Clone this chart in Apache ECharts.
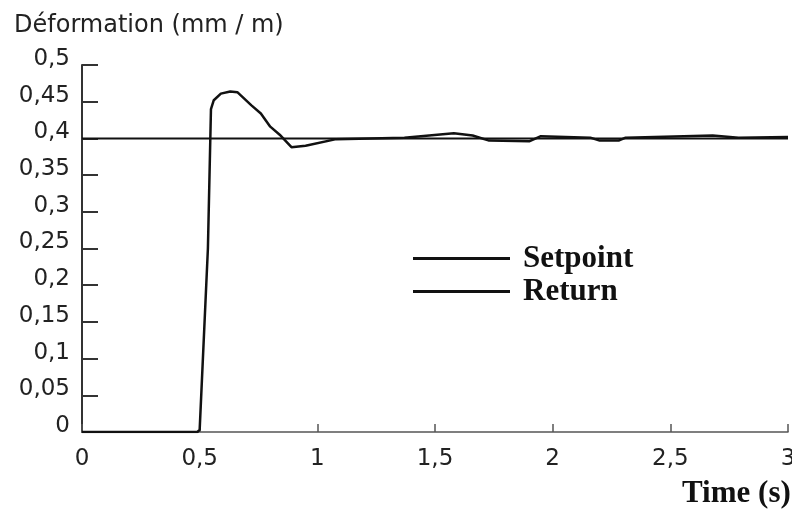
<!DOCTYPE html>
<html>
<head>
<meta charset="utf-8">
<script src="https://cdn.jsdelivr.net/npm/echarts@6/dist/echarts.min.js"></script>
<style>
  html, body { margin: 0; padding: 0; background: #fff; }
  #chart { width: 792px; height: 515px; }
</style>
</head>
<body>
<div id="chart"></div>
<script>
// donnees
var returnTime = [0, 0.49, 0.5, 0.535, 0.548, 0.56, 0.59, 0.63, 0.66, 0.72, 0.76, 0.80, 0.84, 0.89, 0.95, 1.08, 1.37, 1.58, 1.66, 1.73, 1.90, 1.95, 2.16, 2.20, 2.28, 2.31, 2.68, 2.79, 3.0];
var returnValue = [0, 0, 0.003, 0.25, 0.44, 0.452, 0.461, 0.464, 0.463, 0.445, 0.434, 0.416, 0.405, 0.388, 0.390, 0.399, 0.401, 0.407, 0.404, 0.397, 0.396, 0.403, 0.401, 0.397, 0.397, 0.401, 0.404, 0.401, 0.402];
var setpointTime = [0, 3];
var setpointValue = [0.4, 0.4];
var legendNames = ['Setpoint', 'Return'];

function pairs(xs, ys) {
    var out = [];
    for (var i = 0; i < xs.length; i++) out.push([xs[i], ys[i]]);
    return out;
}

function comma(v) {
    return String(+v.toFixed(2)).replace('.', ',');
}

var chart = echarts.init(document.getElementById('chart'));

var option = {
    backgroundColor: '#fff',
    animation: false,
    title: [{
        text: 'Déformation (mm / m)',
        left: 14,
        top: 14,
        padding: 0,
        textStyle: { fontFamily: 'DejaVu Sans', fontSize: 24, fontWeight: 'normal', color: '#222' }
    }, {
        text: 'Time (s)',
        left: 682,
        top: 478,
        padding: 0,
        textStyle: { fontFamily: 'Liberation Serif', fontSize: 31, fontWeight: 'bold', color: '#111' }
    }],
    legend: {
        data: legendNames,
        orient: 'vertical',
        left: 408,
        top: 237,
        icon: 'rect',
        itemWidth: 97,
        itemHeight: 3,
        itemGap: 0,
        selectedMode: false,
        textStyle: {
            fontFamily: 'Liberation Serif',
            fontSize: 31,
            fontWeight: 'bold',
            color: '#111',
            lineHeight: 33,
            padding: [0, 0, 0, 8]
        }
    },
    grid: { left: 82, right: 4, top: 65, bottom: 83, outerBoundsMode: 'none' },
    xAxis: {
        type: 'value',
        min: 0,
        max: 3,
        interval: 0.5,
        splitLine: { show: false },
        axisLine: { lineStyle: { color: '#555', width: 1.5 } },
        axisTick: { inside: true, length: 8, lineStyle: { color: '#555', width: 1.5 } },
        axisLabel: {
            margin: 16,
            fontFamily: 'DejaVu Sans',
            fontSize: 23,
            color: '#222',
            formatter: comma
        }
    },
    yAxis: {
        type: 'value',
        min: 0,
        max: 0.5,
        interval: 0.05,
        splitLine: { show: false },
        axisLine: { show: true, lineStyle: { color: '#333', width: 2 } },
        axisTick: { show: true, inside: true, length: 16, lineStyle: { color: '#333', width: 2 } },
        axisLabel: {
            margin: 12,
            fontFamily: 'DejaVu Sans',
            fontSize: 23,
            color: '#222',
            verticalAlign: 'bottom',
            lineHeight: 12,
            formatter: comma
        }
    },
    series: [{
        name: 'Setpoint',
        type: 'line',
        symbol: 'none',
        color: '#111',
        lineStyle: { color: '#111', width: 2 },
        data: pairs(setpointTime, setpointValue)
    }, {
        name: 'Return',
        type: 'line',
        symbol: 'none',
        color: '#111',
        lineStyle: { color: '#111', width: 2.5 },
        data: pairs(returnTime, returnValue)
    }]
};

chart.setOption(option);
</script>
</body>
</html>
